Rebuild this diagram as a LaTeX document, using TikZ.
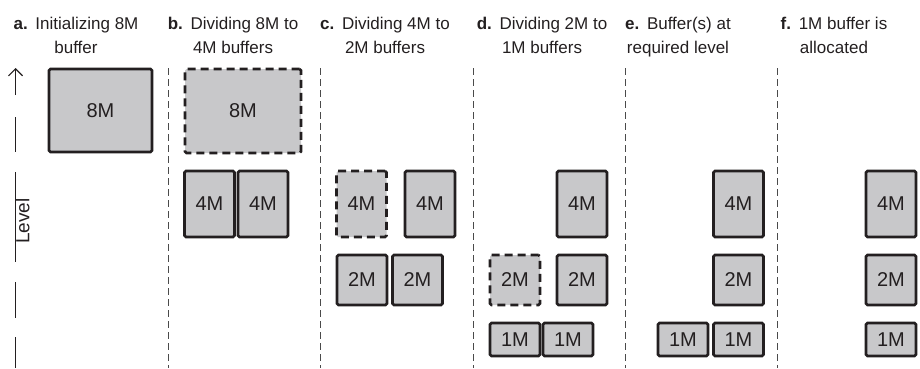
\documentclass[tikz,border=0pt]{standalone}
\usepackage{fontspec}
\setmainfont{Liberation Sans}
\usetikzlibrary{arrows.meta}
\definecolor{ink}{HTML}{231F20}
\definecolor{bufgray}{HTML}{C8C8CA}
\definecolor{sepgray}{HTML}{4A4A4A}
% bold step letter followed by a wide gap
\newcommand\tlab[1]{\textbf{#1.}\hskip0.45em\relax}
\begin{document}
\begin{tikzpicture}[x=1pt,y=-1pt,
  buf/.style={draw=ink, fill=bufgray, line width=2.6pt, rounded corners=1.5pt,
    inner sep=0pt, text=ink, font=\fontsize{20}{20}\selectfont},
  freed/.style={buf, dash pattern=on 8pt off 5pt},
  sizeA/.style={minimum width=103pt, minimum height=83pt},
  sizeB/.style={minimum width=116pt, minimum height=84pt},
  size4/.style={minimum width=50pt, minimum height=66pt},
  size2/.style={minimum width=50pt, minimum height=50pt},
  size1/.style={minimum width=50pt, minimum height=33pt},
  title/.style={anchor=north, align=center, inner sep=0pt, text=ink,
    font=\fontsize{17}{24}\selectfont},
  sep/.style={draw=sepgray, line width=0.8pt, dash pattern=on 7pt off 4pt},
  axis/.style={draw=ink, line width=1.2pt},
]
\useasboundingbox (0,0) rectangle (920,369);

% column headings
\node[title] (ta) at (76,16.5)  {\tlab{a}Initializing 8M\\buffer};
\node[title] (tb) at (233,16.5) {\tlab{b}Dividing 8M to\\4M buffers};
\node[title] (tc) at (385,16.5) {\tlab{c}Dividing 4M to\\2M buffers};
\node[title] (td) at (542,16.5) {\tlab{d}Dividing 2M to\\1M buffers};
\node[title] (te) at (678,16.5) {\tlab{e}Buffer(s) at\\required level};
\node[title] (tf) at (834,16.5) {\tlab{f}1M buffer is\\allocated};

% column separators
\foreach \x in {168,320,473,625,777}
  \draw[sep] (\x,68) -- (\x,368);

% level axis
\draw[axis, -{Straight Barb[length=7pt,width=14pt,line width=1.2pt]}] (15.5,95) -- (15.5,68);
\draw[axis] (15.5,117) -- (15.5,152);
\draw[axis] (15.5,172) -- (15.5,262);
\draw[axis] (15.5,282) -- (15.5,318);
\draw[axis] (15.5,337) -- (15.5,368);
\node[rotate=90, anchor=north, inner sep=0pt, text=ink,
  font=\fontsize{19}{19}\selectfont] (lvl) at (15.5,221) {Level};

% a
\node[buf, sizeA] (a8) at (100.5,110.5) {8M};
% b
\node[freed, sizeB] (b8) at (243,111) {8M};
\node[buf, size4] (b4a) at (209.5,204) {4M};
\node[buf, size4] (b4b) at (263,204) {4M};
% c
\node[freed, size4] (c4a) at (361.5,204) {4M};
\node[buf, size4] (c4b) at (430,204) {4M};
\node[buf, size2] (c2a) at (362,280) {2M};
\node[buf, size2] (c2b) at (417.5,280) {2M};
% d
\node[buf, size4] (d4) at (582,204) {4M};
\node[freed, size2] (d2a) at (515,280) {2M};
\node[buf, size2] (d2b) at (582,280) {2M};
\node[buf, size1] (d1a) at (515,339.5) {1M};
\node[buf, size1] (d1b) at (568,339.5) {1M};
% e
\node[buf, size4] (e4) at (738.5,204) {4M};
\node[buf, size2] (e2) at (738.5,280) {2M};
\node[buf, size1] (e1a) at (683,339.5) {1M};
\node[buf, size1] (e1b) at (738.5,339.5) {1M};
% f
\node[buf, size4] (f4) at (891,204) {4M};
\node[buf, size2] (f2) at (891,280) {2M};
\node[buf, size1] (f1) at (891,339.5) {1M};
\end{tikzpicture}
\end{document}
